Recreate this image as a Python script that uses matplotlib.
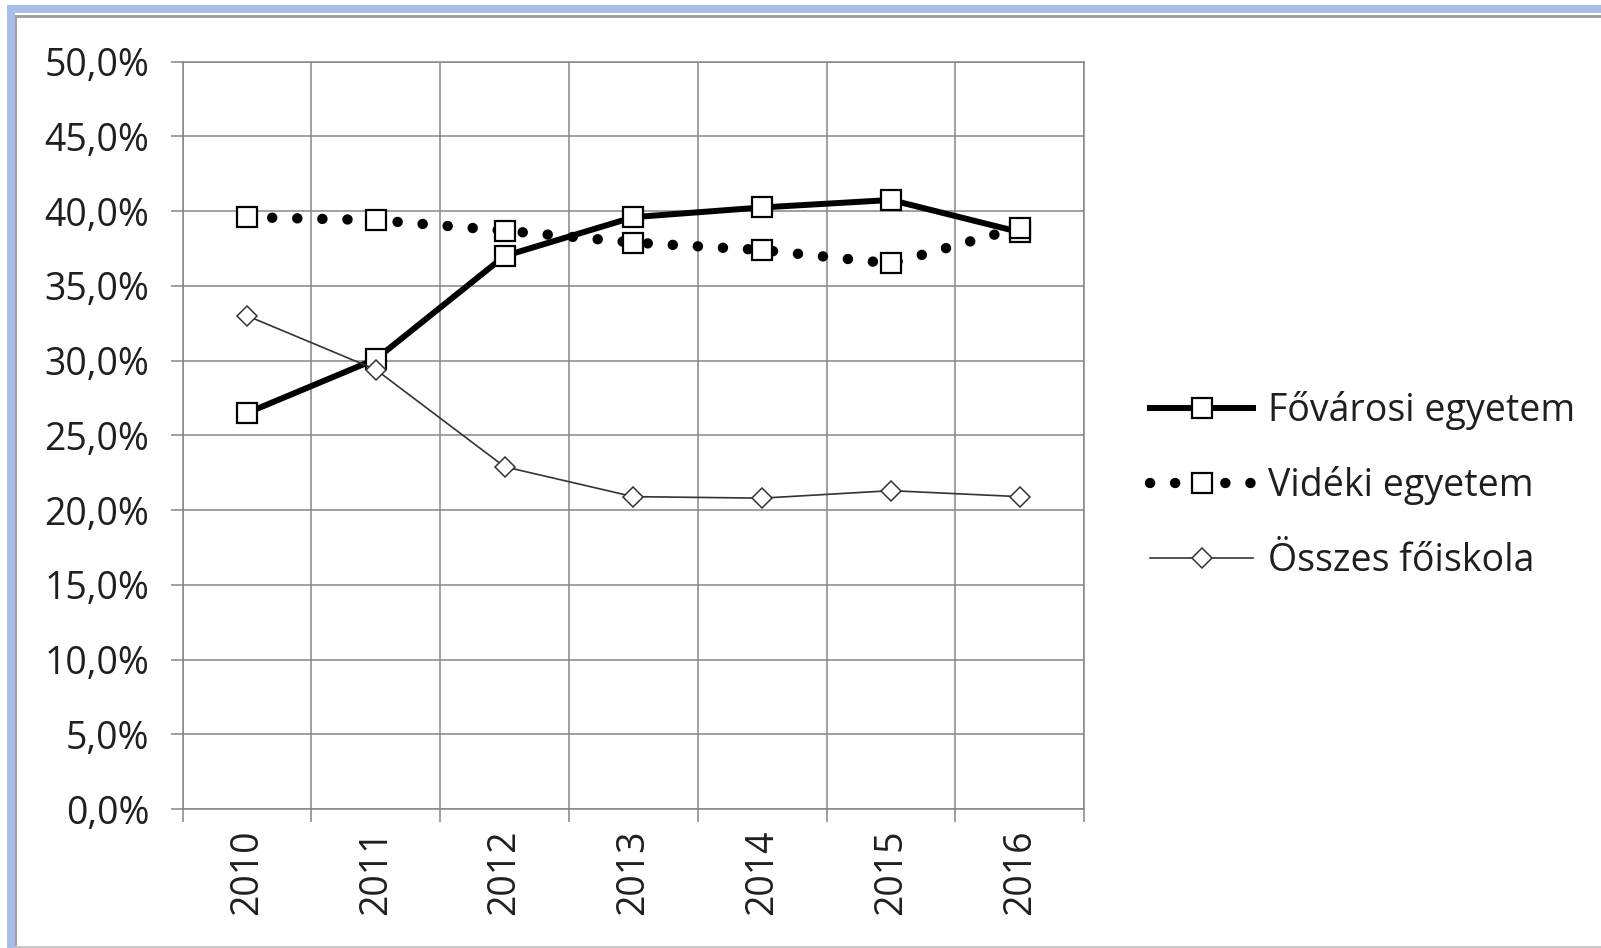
import matplotlib.pyplot as plt
from matplotlib.patches import Rectangle
from matplotlib.ticker import FuncFormatter, FixedLocator

plt.rcParams['font.family'] = ['Open Sans', 'DejaVu Sans']

years = ['2010', '2011', '2012', '2013', '2014', '2015', '2016']
fovarosi = [0.265, 0.301, 0.370, 0.396, 0.4025, 0.4075, 0.386]
videki = [0.396, 0.394, 0.387, 0.379, 0.374, 0.365, 0.389]
osszes = [0.330, 0.294, 0.229, 0.209, 0.208, 0.213, 0.209]
labels = ['Fővárosi egyetem', 'Vidéki egyetem', 'Összes főiskola']

text_col = '#1f1f1f'
grid_col = '#868686'
fs = 27

W, H = 1601, 948
fig = plt.figure(figsize=(W / 100, H / 100), dpi=100)
ax = fig.add_axes([0.1141, 0.1466, 0.5630, 0.7883])

x = range(len(years))
ax.plot(x, fovarosi, color='black', lw=4.3, marker='s', ms=14,
        mfc='white', mec='black', mew=1.6, label=labels[0], zorder=3)
ax.plot(x, videki, color='black', lw=7.5, linestyle=(0, (0.01, 2.4)),
        dash_capstyle='round', marker='s', ms=14, mfc='white', mec='black',
        mew=1.6, label=labels[1], zorder=4)
ax.plot(x, osszes, color='#333333', lw=1.2, marker='D', ms=10,
        mfc='white', mec='#333333', mew=1.1, label=labels[2], zorder=5)

ax.set_xlim(-0.5, len(years) - 0.5)
ax.set_ylim(0, 0.5)
ax.set_yticks([i * 0.05 for i in range(11)])
ax.yaxis.set_major_formatter(FuncFormatter(lambda v, p: f"{v * 100:.1f}%".replace('.', ',')))
ax.set_xticks(list(x))
ax.set_xticklabels(years, rotation=90)
ax.xaxis.set_minor_locator(FixedLocator([i + 0.5 for i in range(-1, len(years))]))

ax.grid(axis='y', color=grid_col, lw=1.1)
ax.grid(axis='x', which='minor', color=grid_col, lw=1.1)
for s in ax.spines.values():
    s.set_color(grid_col)
    s.set_linewidth(1.1)

ax.tick_params(axis='y', length=9, width=1.1, color=grid_col, pad=15,
               labelsize=fs, labelcolor=text_col)
ax.tick_params(axis='x', which='major', length=0, pad=15,
               labelsize=fs, labelcolor=text_col)
ax.tick_params(axis='x', which='minor', length=9.5, width=1.1, color=grid_col)

leg = fig.legend(loc='center left', bbox_to_anchor=(0.7183, 0.488),
                 frameon=False, fontsize=fs, handlelength=2.75,
                 handletextpad=0.4, labelspacing=0.98, borderpad=0,
                 borderaxespad=0, numpoints=1)
for t in leg.get_texts():
    t.set_color(text_col)

# frame around the chart (display pixels, origin bottom-left)
fig.add_artist(Rectangle((7, H - 13), W, 8, transform=None, color='#a7bee6', lw=0))
fig.add_artist(Rectangle((7, 0), 8, H - 5, transform=None, color='#a7bee6', lw=0))
fig.add_artist(Rectangle((15, H - 18), W, 3, transform=None, color='#a0a0a0', lw=0))
fig.add_artist(Rectangle((15, 0), 2, H - 15, transform=None, color='#a0a0a0', lw=0))
fig.add_artist(Rectangle((15, 0), W, 2, transform=None, color='#c8c8c8', lw=0))

fig.savefig('out.png', dpi=100)
